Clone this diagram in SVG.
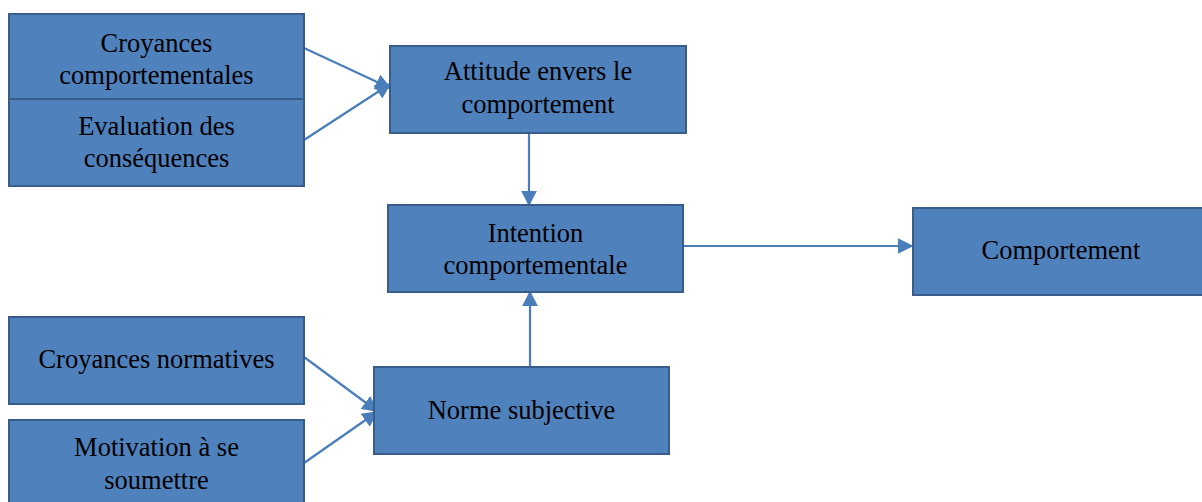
<svg xmlns="http://www.w3.org/2000/svg" width="1202" height="502" viewBox="0 0 1202 502">
<defs>
<style>
.box{fill:#4F81BD;stroke:#385D8A;stroke-width:2}
.t{font-family:"Liberation Serif","Times New Roman",serif;font-size:26.5px;fill:#000;text-anchor:middle}
.c{stroke:#4A7EBB;stroke-width:2.2;fill:none}
</style>
<marker id="ah" viewBox="0 0 10 10" refX="9" refY="5" markerWidth="6" markerHeight="6" markerUnits="userSpaceOnUse" orient="auto"><path d="M0,0 L10,5 L0,10 Z" fill="#4A7EBB"/></marker>
<marker id="a2" viewBox="0 0 10 10" refX="9" refY="5" markerWidth="16" markerHeight="16" markerUnits="userSpaceOnUse" orient="auto"><path d="M0,0 L10,5 L0,10 Z" fill="#4A7EBB"/></marker>
</defs>
<rect width="1202" height="502" fill="#fff"/>
<g id="connectors">
<line class="c" x1="304" y1="48" x2="390" y2="88" marker-end="url(#a2)"/>
<line class="c" x1="304" y1="140" x2="390" y2="84" marker-end="url(#a2)"/>
<line class="c" x1="529" y1="133" x2="529" y2="205" marker-end="url(#a2)"/>
<line class="c" x1="530" y1="367" x2="530" y2="292" marker-end="url(#a2)"/>
<line class="c" x1="683" y1="246" x2="912" y2="246" marker-end="url(#a2)"/>
<line class="c" x1="304" y1="357" x2="377" y2="411" marker-end="url(#a2)"/>
<line class="c" x1="304" y1="463" x2="377" y2="412" marker-end="url(#a2)"/>
</g>
<g id="n-croyances-comp">
<rect class="box" x="9" y="14" width="295" height="85"/>
<text class="t" x="156.5" y="52">Croyances</text>
<text class="t" x="156.5" y="84">comportementales</text>
</g>
<g id="n-evaluation">
<rect class="box" x="9" y="99" width="295" height="87"/>
<text class="t" x="156.5" y="135">Evaluation des</text>
<text class="t" x="156.5" y="167">conséquences</text>
</g>
<g id="n-attitude">
<rect class="box" x="390" y="46" width="296" height="87"/>
<text class="t" x="538" y="80">Attitude envers le</text>
<text class="t" x="538" y="113">comportement</text>
</g>
<g id="n-intention">
<rect class="box" x="388" y="205" width="295" height="87"/>
<text class="t" x="535.5" y="242">Intention</text>
<text class="t" x="535.5" y="274">comportementale</text>
</g>
<g id="n-comportement">
<rect class="box" x="913" y="208" width="290" height="87"/>
<text class="t" x="1061" y="259">Comportement</text>
</g>
<g id="n-croyances-norm">
<rect class="box" x="9" y="317" width="295" height="87"/>
<text class="t" x="156.5" y="368">Croyances normatives</text>
</g>
<g id="n-norme">
<rect class="box" x="374" y="367" width="295" height="87"/>
<text class="t" x="521.5" y="419">Norme subjective</text>
</g>
<g id="n-motivation">
<rect class="box" x="9" y="420" width="295" height="90"/>
<text class="t" x="156.5" y="456">Motivation à se</text>
<text class="t" x="156.5" y="489">soumettre</text>
</g>
</svg>
